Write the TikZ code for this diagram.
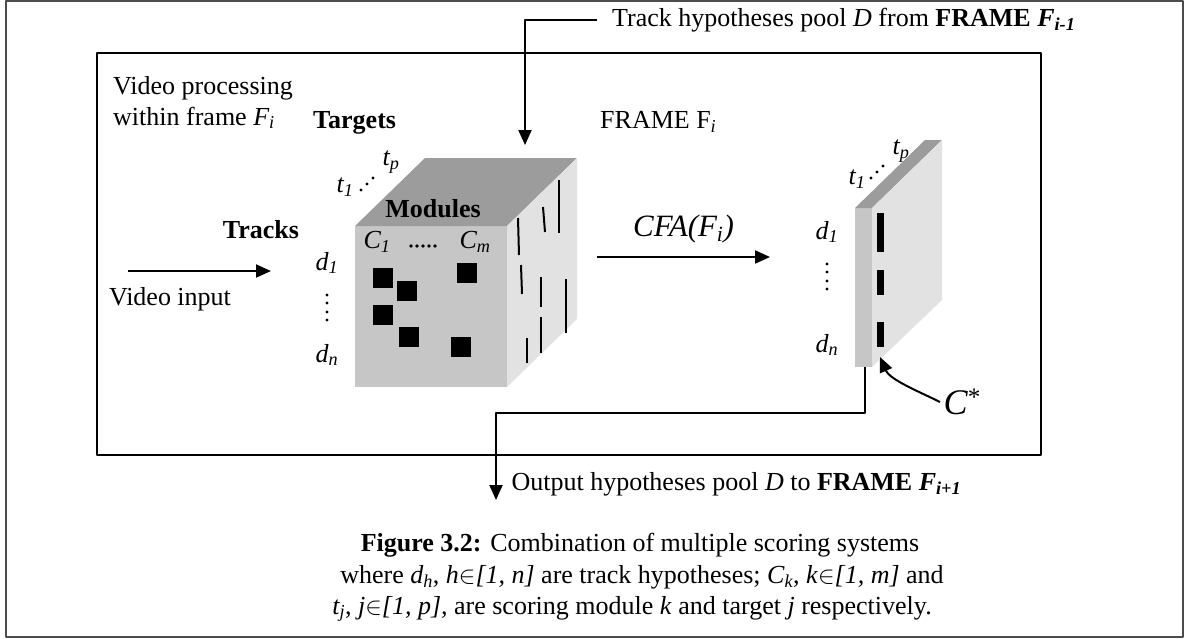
\documentclass[tikz,border=0pt]{standalone}
\usepackage{fontspec}
\setmainfont{Liberation Serif}
\usetikzlibrary{arrows.meta}
\definecolor{facefront}{HTML}{C6C6C6}
\definecolor{facetop}{HTML}{9C9C9C}
\definecolor{faceside}{HTML}{E2E2E2}
\newcommand{\vsub}[2]{\textit{#1\textsubscript{#2}}}
\begin{document}
\begin{tikzpicture}[x=1pt,y=-1pt,>={Triangle[length=15pt,width=13pt]},line join=round,font=\fontsize{26}{31}\selectfont]
	\useasboundingbox (0,0) rectangle (1184,638);
	\draw[black!70,line width=1.5pt] (6,1) rectangle (1183,637);
	\draw[line width=2pt] (97,53) rectangle (1041,455);
	\node[anchor=north west,align=left,inner sep=0pt] (vproc) at (113,76) {Video processing\\within frame \vsub{F}{i}};
	\node[anchor=west,inner sep=0pt] (frame) at (600,122) {FRAME F\textsubscript{\textit{i}}};
	% cube of scores
	\fill[facefront] (355,226) rectangle (507,387);
	\fill[facetop] (355,226)--(425,158)--(577,158)--(507,226)--cycle;
	\fill[faceside] (507,226)--(577,158)--(577,319)--(507,387)--cycle;
	\foreach \x/\y in {373/268,397/281,373/305,399/327,451/337,457/263}
		\fill (\x,\y) rectangle ++(20,20);
	\foreach \a/\b/\c/\d in {518/218/519/255,543/207/545/232,559/180/559/233,521/265/522/294,541/277/541/307,566/279/566/333,527/338/527/363,541/317/541/353}
		\draw[line width=2pt] (\a,\b)--(\c,\d);
	\node[inner sep=0pt,font=\fontsize{26}{31}\selectfont\bfseries] (modules) at (433,209) {Modules};
	\node[inner sep=0pt] (c1) at (377,242) {\vsub{C}{1}};
	\foreach \x in {411,417,423,429,435} \fill (\x,246) circle (1.8);
	\node[inner sep=0pt] (cm) at (475,242) {\vsub{C}{m}};
	\node[anchor=west,inner sep=0pt,font=\fontsize{26}{31}\selectfont\bfseries] (targets) at (313,123) {Targets};
	\node (t1) at (345,187) {\vsub{t}{1}};
	\node (tp) at (391,162) {\vsub{t}{p}};
	\foreach \x/\y in {361/190,367/184,373/178} \fill (\x,\y) circle (1.7);
	\node (d1) at (327,263) {\vsub{d}{1}};
	\foreach \y in {295,303,312,320} \fill (327,\y) circle (1.7);
	\node (dn) at (327,355) {\vsub{d}{n}};
	% input
	\node[font=\fontsize{26}{31}\selectfont\bfseries] (tracks) at (261,230) {Tracks};
	\coordinate (vin) at (128,271);
	\coordinate (cubein) at (271,271);
	\draw[line width=2pt,->] (vin)--(cubein);
	\node (video) at (170,299) {Video input};
	% pool from previous frame
	\node[anchor=west,inner xsep=15pt] (prev) at (597,20) {Track hypotheses pool \textit{D} from \textbf{FRAME \textit{F\textsubscript{i-1}}}};
	\coordinate (cubetop) at (525,145);
	\draw[line width=2pt,->] (prev.west) -| (cubetop);
	% combination
	\coordinate (cfa) at (597,257);
	\coordinate (slabin) at (770,257);
	\draw[line width=2pt,->] (cfa)--(slabin) node[midway,above=10pt,font=\fontsize{31}{36}\selectfont] (cfalab) {\textit{CFA(F\textsubscript{i})}};
	% slab of best scores
	\fill[facefront] (855,208) rectangle (872,367);
	\fill[facetop] (855,208)--(925,140)--(942,140)--(872,208)--cycle;
	\fill[faceside] (872,208)--(942,140)--(942,300)--(872,367)--cycle;
	\foreach \y/\h in {213/39,270/25,322/25}
		\fill (877,\y) rectangle ++(7,\h);
	\node (s1) at (857,179) {\vsub{t}{1}};
	\node (sp) at (901,151) {\vsub{t}{p}};
	\foreach \x/\y in {871/178,877/172,883/166} \fill (\x,\y) circle (1.7);
	\node (sd1) at (827,232) {\vsub{d}{1}};
	\foreach \y in {264,272,281,289} \fill (827,\y) circle (1.7);
	\node (sdn) at (827,345) {\vsub{d}{n}};
	\node[font=\fontsize{36}{40}\selectfont,anchor=west] (cstar) at (940,402) {\textit{C}\textsuperscript{*}};
	\coordinate (best) at (880,357);
	\draw[line width=2pt,->] (cstar.west) .. controls (920,392) and (890,380) .. (best);
	% output
	\coordinate (slabout) at (865,367);
	\coordinate (outtip) at (496,500);
	\draw[line width=2pt,->] (slabout)--(865,413)-|(outtip);
	\node[anchor=west] (next) at (508,484) {Output hypotheses pool \textit{D} to \textbf{FRAME \textit{F\textsubscript{i+1}}}};
	% caption
	\node (cap1) at (640,545) {\textbf{Figure 3.2:} Combination of multiple scoring systems};
	\node (cap2) at (642,577) {where \vsub{d}{h}, \textit{h}$\in$\textit{[1, n]} are track hypotheses; \vsub{C}{k}, \textit{k}$\in$\textit{[1, m]} and};
	\node (cap3) at (632,609) {\vsub{t}{j}, \textit{j}$\in$\textit{[1, p],} are scoring module \textit{k} and target \textit{j} respectively.};
\end{tikzpicture}
\end{document}
